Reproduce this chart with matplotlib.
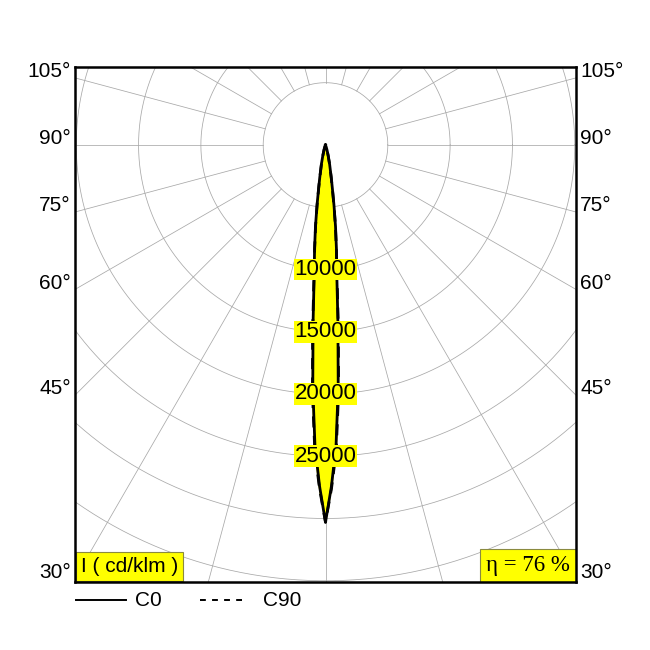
import numpy as np
import matplotlib.pyplot as plt

# luminous intensity (cd/klm) against angle from nadir (deg)
angles = [0, 1, 2, 3, 4, 5, 6, 7, 8, 9, 10, 12, 14, 17, 20, 25]
c0 = [30300, 27400, 24200, 19500, 14300, 10400, 8400, 6600, 4900, 3500, 2650, 1600, 900, 400, 150, 0]
c90 = [30300, 27600, 24600, 20000, 14800, 10600, 8300, 6500, 4800, 3500, 2600, 1550, 880, 380, 140, 0]

ring_labels = [10000, 15000, 20000, 25000]
ring_step = 5000
angle_labels = [105, 90, 75, 60, 45, 30]
eta = 76

plt.rcParams['font.family'] = ['Liberation Sans', 'DejaVu Sans']

fig = plt.figure(figsize=(6.5, 6.5), dpi=100)
ax = fig.add_axes([75 / 650, 68 / 650, 501 / 650, 515 / 650])
xmax = 20100
ytop, ybot = 6260, -35100
ax.set_xlim(-xmax, xmax)
ax.set_ylim(ybot, ytop)
ax.set_xticks([])
ax.set_yticks([])
for s in ax.spines.values():
    s.set_linewidth(1.8)
    s.set_zorder(10)

grid = dict(color='#a8a8a8', lw=0.55, zorder=1)
t = np.linspace(0, 2 * np.pi, 720)
for r in range(ring_step, 50001, ring_step):
    ax.plot(r * np.cos(t), r * np.sin(t), **grid)
for a in range(0, 360, 15):
    th = np.radians(a)
    ax.plot([ring_step * np.sin(th), 60000 * np.sin(th)],
            [-ring_step * np.cos(th), -60000 * np.cos(th)], **grid)


def outline(vals):
    a = np.radians(np.array(angles, dtype=float))
    v = np.array(vals, dtype=float)
    a = np.concatenate([-a[::-1], a[1:]])
    v = np.concatenate([v[::-1], v[1:]])
    return v * np.sin(a), -v * np.cos(a)


x0, y0 = outline(c0)
x9, y9 = outline(c90)
ax.fill(x9, y9, color='#ffff00', zorder=2)
ax.fill(x0, y0, color='#ffff00', zorder=2)
ax.plot(x9, y9, color='black', lw=2.0, ls=(0, (4, 3)), zorder=3)
ax.plot(x0, y0, color='black', lw=2.0, zorder=4)

for r in ring_labels:
    ax.text(0, -r, str(r), ha='center', va='center', fontsize=16, zorder=6,
            bbox=dict(boxstyle='square,pad=0.02', fc='#ffff00', ec='none'))

for a in angle_labels:
    y = -xmax / np.tan(np.radians(a)) if a != 90 else 0
    for side, ha in [(-1, 'right'), (1, 'left')]:
        ax.annotate(f'{a}°', xy=(side * xmax, y), xytext=(side * 3, 4.5),
                    textcoords='offset points', ha=ha, va='center',
                    fontsize=15, annotation_clip=False)

box = dict(boxstyle='square,pad=0.25', fc='#ffff00', ec='#8a8a40', lw=0.8)
ax.text(0.012, 0.012, 'I ( cd/klm )', transform=ax.transAxes, ha='left', va='bottom',
        fontsize=15, zorder=8, bbox=box)
ax.text(0.988, 0.012, f'η = {eta} %', transform=ax.transAxes, ha='right', va='bottom',
        fontsize=16.5, family=['Liberation Serif', 'DejaVu Serif'], zorder=8, bbox=box)

# legend below the frame
fig.lines.append(plt.Line2D([76 / 650, 126 / 650], [50 / 650, 50 / 650], color='black', lw=1.4,
                            transform=fig.transFigure))
fig.text(135 / 650, 50 / 650, 'C0', ha='left', va='center', fontsize=15)
fig.lines.append(plt.Line2D([200 / 650, 245 / 650], [50 / 650, 50 / 650], color='black', lw=1.4,
                            ls=(0, (3, 3.2)), transform=fig.transFigure))
fig.text(263 / 650, 50 / 650, 'C90', ha='left', va='center', fontsize=15)

fig.savefig('out.png', dpi=100, facecolor='white')
